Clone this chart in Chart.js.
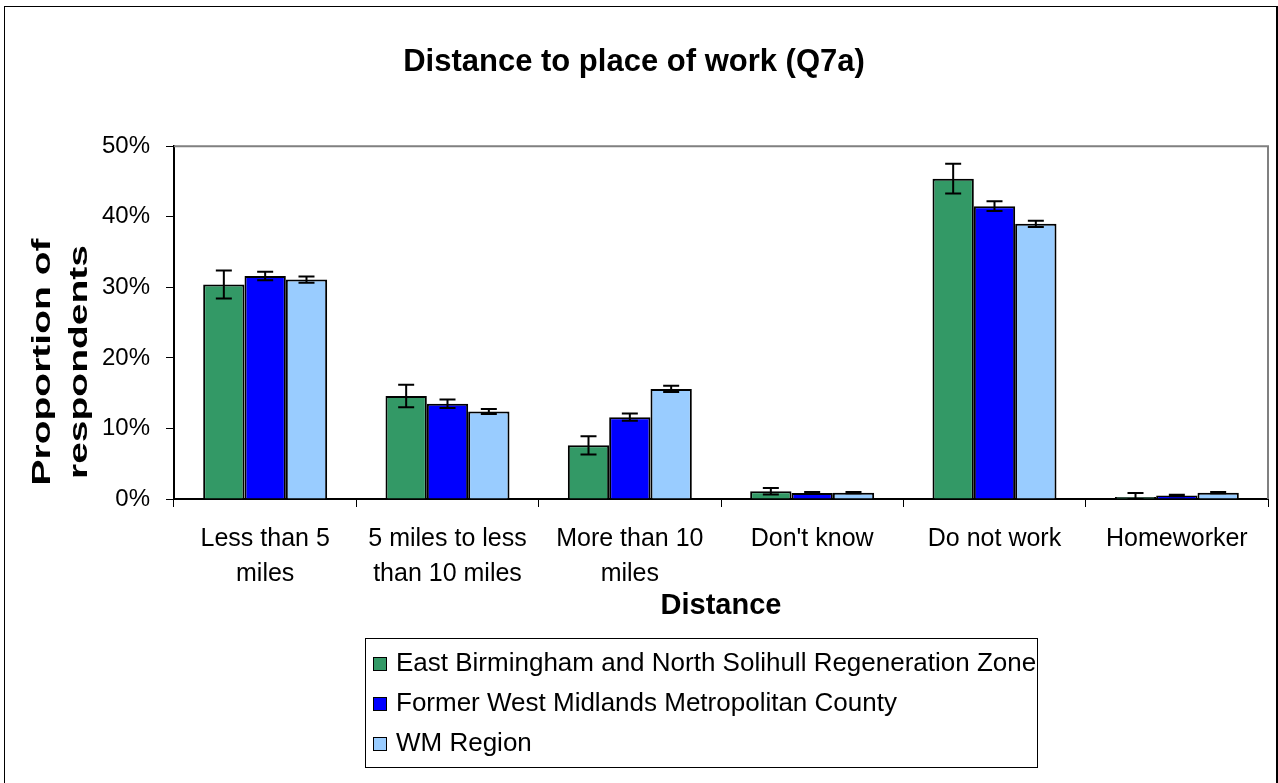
<!DOCTYPE html>
<html>
<head>
<meta charset="utf-8">
<title>Distance to place of work (Q7a)</title>
<script src="https://cdn.jsdelivr.net/npm/chart.js@4.4.1/dist/chart.umd.min.js"></script>
<style>
    body { margin: 0; background: #fff; font-family: 'Liberation Sans', Arial, sans-serif; }
    #wrap { position: relative; width: 1278px; height: 783px; overflow: hidden; }
    #frame { position: absolute; left: 4px; top: 6px; width: 1271px; height: 800px;
             border-left: 1px solid #000; border-top: 1px solid #000; border-right: 2px solid #000; }
    #legend { position: absolute; left: 365px; top: 638px; width: 673px; height: 130px;
              border: 1px solid #000; box-sizing: border-box; padding: 3px 0 0 7px; }
    .item { height: 40px; line-height: 40px; font-size: 26px; color: #000; white-space: nowrap; }
    .swatch { display: inline-block; width: 12px; height: 12px; border: 1px solid #000;
              margin-right: 9px; vertical-align: 0px; }
</style>
</head>
<body>
<div id="wrap">
    <div id="frame"></div>
    <canvas id="chart"></canvas>
    <div id="legend"></div>
</div>
<script>
// data (percent of respondents)
const categories = ['Less than 5 miles', '5 miles to less than 10 miles', 'More than 10 miles', "Don't know", 'Do not work', 'Homeworker'];
const tickLabels = [['Less than 5', 'miles'], ['5 miles to less', 'than 10 miles'], ['More than 10', 'miles'], ["Don't know"], ['Do not work'], ['Homeworker']];
const seriesNames = ['East Birmingham and North Solihull Regeneration Zone', 'Former West Midlands Metropolitan County', 'WM Region'];

const regenZone = [30.4, 14.6, 7.6, 1.1, 45.4, 0.3];
const regenZoneErr = [2.0, 1.6, 1.3, 0.45, 2.1, 0.55];
const metCounty = [31.6, 13.5, 11.6, 0.85, 41.5, 0.5];
const metCountyErr = [0.6, 0.6, 0.5, 0.15, 0.7, 0.1];
const wmRegion = [31.1, 12.4, 15.6, 0.9, 39.0, 0.9];
const wmRegionErr = [0.45, 0.35, 0.45, 0.1, 0.45, 0.1];

const yTicks = [0, 10, 20, 30, 40, 50];

const FONT = "'Liberation Sans', Arial, sans-serif";

// error bars drawn with the y scale
const errorBars = {
    id: 'errorBars',
    afterDatasetsDraw(chart) {
        const ctx = chart.ctx;
        const y = chart.scales.y;
        ctx.save();
        ctx.strokeStyle = '#000';
        ctx.lineWidth = 2;
        chart.data.datasets.forEach((ds, i) => {
            const meta = chart.getDatasetMeta(i);
            meta.data.forEach((bar, j) => {
                const v = ds.data[j], e = ds.errors[j];
                const top = y.getPixelForValue(v + e);
                const bot = y.getPixelForValue(Math.max(0, v - e));
                ctx.beginPath();
                ctx.moveTo(bar.x, top); ctx.lineTo(bar.x, bot);
                ctx.moveTo(bar.x - 8, top); ctx.lineTo(bar.x + 8, top);
                ctx.moveTo(bar.x - 8, bot); ctx.lineTo(bar.x + 8, bot);
                ctx.stroke();
            });
        });
        ctx.restore();
    }
};

// grey frame round the plot area
const plotFrame = {
    id: 'plotFrame',
    beforeDatasetsDraw(chart) {
        const {ctx, chartArea: a} = chart;
        ctx.save();
        ctx.strokeStyle = '#808080';
        ctx.lineWidth = 2;
        ctx.beginPath();
        ctx.moveTo(a.left, a.top); ctx.lineTo(a.right, a.top); ctx.lineTo(a.right, a.bottom);
        ctx.stroke();
        ctx.restore();
    }
};

// y axis title, two lines, rotated
const yTitle = {
    id: 'yTitle',
    afterDraw(chart) {
        const {ctx, chartArea: a} = chart;
        const lines = ['Proportion of', 'respondents'];
        ctx.save();
        ctx.fillStyle = '#000';
        ctx.font = 'bold 26px ' + FONT;
        ctx.textAlign = 'center';
        ctx.textBaseline = 'middle';
        lines.forEach((t, k) => {
            ctx.save();
            ctx.translate(a.left - 131 + k * 37, a.bottom - 137);
            ctx.rotate(-Math.PI / 2);
            ctx.scale(1.5, 1);
            ctx.fillText(t, 0, 0);
            ctx.restore();
        });
        ctx.restore();
    }
};

const chart = new Chart(document.getElementById('chart'), {
    type: 'bar',
    data: {
        labels: categories,
        datasets: [
            { label: seriesNames[0], data: regenZone, errors: regenZoneErr, backgroundColor: '#339966' },
            { label: seriesNames[1], data: metCounty, errors: metCountyErr, backgroundColor: '#0000FF' },
            { label: seriesNames[2], data: wmRegion, errors: wmRegionErr, backgroundColor: '#99CCFF' }
        ].map(d => Object.assign(d, { borderColor: '#000', borderWidth: 2, categoryPercentage: 0.68, barPercentage: 1 }))
    },
    options: {
        responsive: true,
        maintainAspectRatio: false,
        animation: false,
        layout: { padding: { left: 0, right: 10, top: 0, bottom: 154 } },
        plugins: {
            legend: { display: false },
            tooltip: { enabled: false },
            title: {
                display: true,
                text: 'Distance to place of work (Q7a)',
                color: '#000',
                font: { family: FONT, size: 31, weight: 'bold', lineHeight: 1.2 },
                padding: { top: 44, bottom: 65 }
            }
        },
        scales: {
            x: {
                grid: { offset: true, drawOnChartArea: false, tickLength: 8, color: '#000' },
                border: { color: '#000', width: 2 },
                ticks: {
                    color: '#000',
                    padding: 15,
                    maxRotation: 0,
                    autoSkip: false,
                    font: { family: FONT, size: 25, lineHeight: 1.4 },
                    callback: (v, i) => tickLabels[i]
                },
                title: {
                    display: true,
                    text: 'Distance',
                    color: '#000',
                    font: { family: FONT, size: 29, weight: 'bold', lineHeight: 1.2 },
                    padding: { top: 0, bottom: 6 }
                },
                afterFit: s => { s.height = 130; }
            },
            y: {
                min: 0,
                max: 50,
                afterBuildTicks: s => { s.ticks = yTicks.map(v => ({ value: v })); },
                grid: { drawOnChartArea: false, tickLength: 8, color: '#000' },
                border: { color: '#000', width: 2 },
                ticks: {
                    color: '#000',
                    padding: 16,
                    font: { family: FONT, size: 24 },
                    callback: v => v + '%'
                },
                afterFit: s => { s.width = 174; }
            }
        }
    },
    plugins: [plotFrame, errorBars, yTitle]
});

// legend box built from the chart's datasets
const legend = document.getElementById('legend');
chart.data.datasets.forEach(ds => {
    const row = document.createElement('div');
    row.className = 'item';
    const sw = document.createElement('span');
    sw.className = 'swatch';
    sw.style.background = ds.backgroundColor;
    row.appendChild(sw);
    row.appendChild(document.createTextNode(ds.label));
    legend.appendChild(row);
});
</script>
</body>
</html>
